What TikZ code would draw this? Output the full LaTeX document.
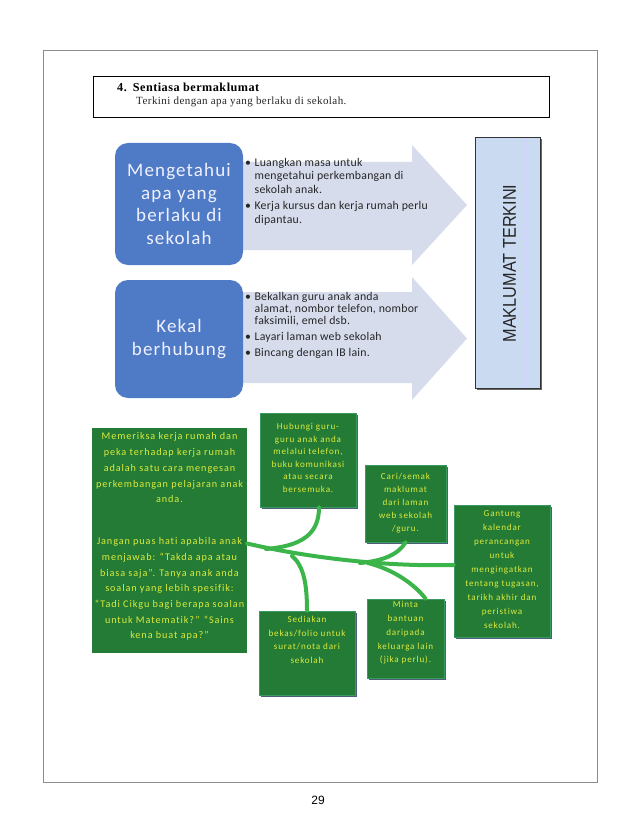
\documentclass[tikz,border=0pt]{standalone}
\usepackage{fontspec}
\setmainfont{Carlito}
\newfontfamily\cbw[LetterSpace=6,Ligatures=NoCommon]{Carlito}
\newfontfamily\cbl[LetterSpace=2,Ligatures=NoCommon]{Carlito}
\newfontfamily\cbg[LetterSpace=9,Ligatures=NoCommon]{Carlito}
\newfontfamily\srf[LetterSpace=4]{Liberation Serif}
\newfontfamily\arl{Liberation Sans}
\usetikzlibrary{shadows,calc}
\definecolor{bluebox}{HTML}{4F7BC6}
\definecolor{arrowfill}{HTML}{D6DCEC}
\definecolor{mkfill}{HTML}{C9DAF1}
\definecolor{gfill}{HTML}{237B35}
\definecolor{gborder}{HTML}{3A9A62}
\definecolor{gtextc}{HTML}{DDEB3E}
\definecolor{conn}{HTML}{3BB54A}
\definecolor{shadowc}{HTML}{4E5E78}
\tikzset{
  bluebox/.style={fill=bluebox, rounded corners=13pt, inner sep=0pt, text=white!94!blue, align=center},
  listtext/.style={anchor=north west, align=left, inner sep=0pt, text=black!85},
  gbox/.style={fill=gfill, draw=gborder, line width=0.8pt, inner sep=0pt,
     drop shadow={shadow xshift=1.6pt, shadow yshift=-1.6pt, fill=shadowc, opacity=1}},
  gtext/.style={anchor=north, align=center, inner sep=0pt, text=gtextc},
  fish/.style={draw=conn, line width=4pt, line cap=round},
}
\begin{document}
\begin{tikzpicture}[x=1pt,y=-1pt]
\useasboundingbox (0,0) rectangle (638,837);
\fill[white] (0,0) rectangle (638,837);
% page frame
\node[draw=black!45, line width=0.8pt, minimum width=554pt, minimum height=732pt, inner sep=0pt] (page) at (320,416.5) {};
\node[font=\arl\fontsize{12}{14}\selectfont, inner sep=0pt] (pnum) at (318,800) {29};
% title box
\node[draw=black, line width=0.9pt, minimum width=456pt, minimum height=41pt, inner sep=0pt] (title) at (321,96.5) {};
\node[anchor=west, inner sep=0pt, font=\srf\bfseries\fontsize{12.2}{14}\selectfont] (t1) at (117,87) {4.\hspace{6pt}Sentiasa bermaklumat};
\node[anchor=west, inner sep=0pt, font=\srf\fontsize{11}{12}\selectfont, text=black!85] (t2) at (136,102) {Terkini dengan apa yang berlaku di sekolah.};
% arrows
\fill[arrowfill] (236,162) -- (412,162) -- (412,145) -- (467,205) -- (412,265) -- (412,250) -- (236,250) -- cycle;
\fill[arrowfill] (236,292) -- (412,292) -- (412,277) -- (467,338.5) -- (412,400) -- (412,383) -- (236,383) -- cycle;
% blue boxes
\node[bluebox, minimum width=128pt, minimum height=122pt, font=\cbw\fontsize{19}{22.5}\selectfont] (b1) at (179,204) {Mengetahui\\apa yang\\berlaku di\\sekolah};
\node[bluebox, minimum width=128pt, minimum height=118pt, font=\cbw\fontsize{19}{23}\selectfont] (b2) at (179,339) {Kekal\\berhubung};
% bullet lists
\node[listtext, font=\cbl\fontsize{11.8}{13.5}\selectfont] (l1) at (245,158) {\textbullet\hspace{3.5pt}Luangkan masa untuk\\\hspace*{9.5pt}mengetahui perkembangan di\\\hspace*{9.5pt}sekolah anak.\\[3pt]\textbullet\hspace{3.5pt}Kerja kursus dan kerja rumah perlu\\\hspace*{9.5pt}dipantau.};
\node[listtext, font=\cbl\fontsize{11.8}{12}\selectfont] (l2) at (245,292.5) {\textbullet\hspace{3.5pt}Bekalkan guru anak anda\\\hspace*{9.5pt}alamat, nombor telefon, nombor\\\hspace*{9.5pt}faksimili, emel dsb.\\[4pt]\textbullet\hspace{3.5pt}Layari laman web sekolah\\[4pt]\textbullet\hspace{3.5pt}Bincang dengan IB lain.};
% maklumat terkini
\node[fill=mkfill, draw=black!80, line width=1pt, minimum width=65pt, minimum height=250pt, inner sep=0pt,
  drop shadow={shadow xshift=1.5pt, shadow yshift=-1.5pt, fill=black!60, opacity=1}] (mk) at (507.5,263) {};
\draw[white!80!mkfill!85!blue, line width=0.6pt] ($(mk.north west)+(52,1)$) -- ($(mk.south west)+(52,-1)$);
\node[rotate=90, inner sep=0pt, text=black!85, font=\arl\fontsize{18.5}{20}\selectfont] (mkt) at (509.5,263.5) {\scalebox{0.88}[1]{MAKLUMAT TERKINI}};
% green boxes
\node[fill=gfill, draw=none, minimum width=155pt, minimum height=225pt, inner sep=0pt] (L) at (169.5,540.5) {};
\node[gtext, font=\cbg\fontsize{10.2}{15.8}\selectfont] (Lt1) at (169.5,432.5) {Memeriksa kerja rumah dan\\peka terhadap kerja rumah\\adalah satu cara mengesan\\perkembangan pelajaran anak\\anda.};
\node[gtext, font=\cbg\fontsize{10.2}{15.7}\selectfont] (Lt2) at (169.5,537.5) {Jangan puas hati apabila anak\\menjawab: “Takda apa atau\\biasa saja”. Tanya anak anda\\soalan yang lebih spesifik:\\“Tadi Cikgu bagi berapa soalan\\untuk Matematik?” “Sains\\kena buat apa?”};
\node[gbox, minimum width=96pt, minimum height=94pt] (H) at (308,460) {};
\node[gtext, font=\cbg\fontsize{9.1}{12.6}\selectfont] (Ht) at (308,423) {Hubungi guru-\\guru anak anda\\melalui telefon,\\buku komunikasi\\atau secara\\bersemuka.};
\node[gbox, minimum width=81pt, minimum height=77pt] (C) at (405.5,503.5) {};
\node[gtext, font=\cbg\fontsize{9.1}{13}\selectfont] (Ct) at (405.5,473) {Cari/semak\\maklumat\\dari laman\\web sekolah\\/guru.};
\node[gbox, minimum width=96pt, minimum height=132pt] (G) at (502,571) {};
\node[gtext, font=\cbg\fontsize{9.1}{14}\selectfont] (Gt) at (502,510) {Gantung\\kalendar\\perancangan\\untuk\\mengingatkan\\tentang tugasan,\\tarikh akhir dan\\peristiwa\\sekolah.};
\node[gbox, minimum width=96pt, minimum height=84pt] (S) at (307,653) {};
\node[gtext, font=\cbg\fontsize{9.1}{13.6}\selectfont] (St) at (307,616) {Sediakan\\bekas/folio untuk\\surat/nota dari\\sekolah};
\node[gbox, minimum width=77pt, minimum height=79pt] (M) at (405.5,638.5) {};
\node[gtext, font=\cbg\fontsize{9.1}{13.7}\selectfont] (Mt) at (405.5,601.5) {Minta\\bantuan\\daripada\\keluarga lain\\(jika perlu).};
% fishbone connectors
\coordinate (j1) at (266,549);
\coordinate (j2) at (292,556);
\coordinate (j3) at (360,563);
\coordinate (j4) at (368,563);
\draw[fish] ([yshift=-3pt]L.east) .. controls (300,556) and (380,567) .. ([yshift=6pt]G.west);
\draw[fish] ([xshift=11pt]H.south) .. controls ([xshift=11pt,yshift=-28pt]H.south) and (300,546) .. (j1);
\draw[fish] (j2) .. controls (304,566) and (307,585) .. (S.north);
\draw[fish] (C.south) .. controls (398,555) and (382,561) .. (j3);
\draw[fish] (j4) .. controls (395,570) and (415,585) .. ([xshift=20pt]M.north);
\end{tikzpicture}
\end{document}
